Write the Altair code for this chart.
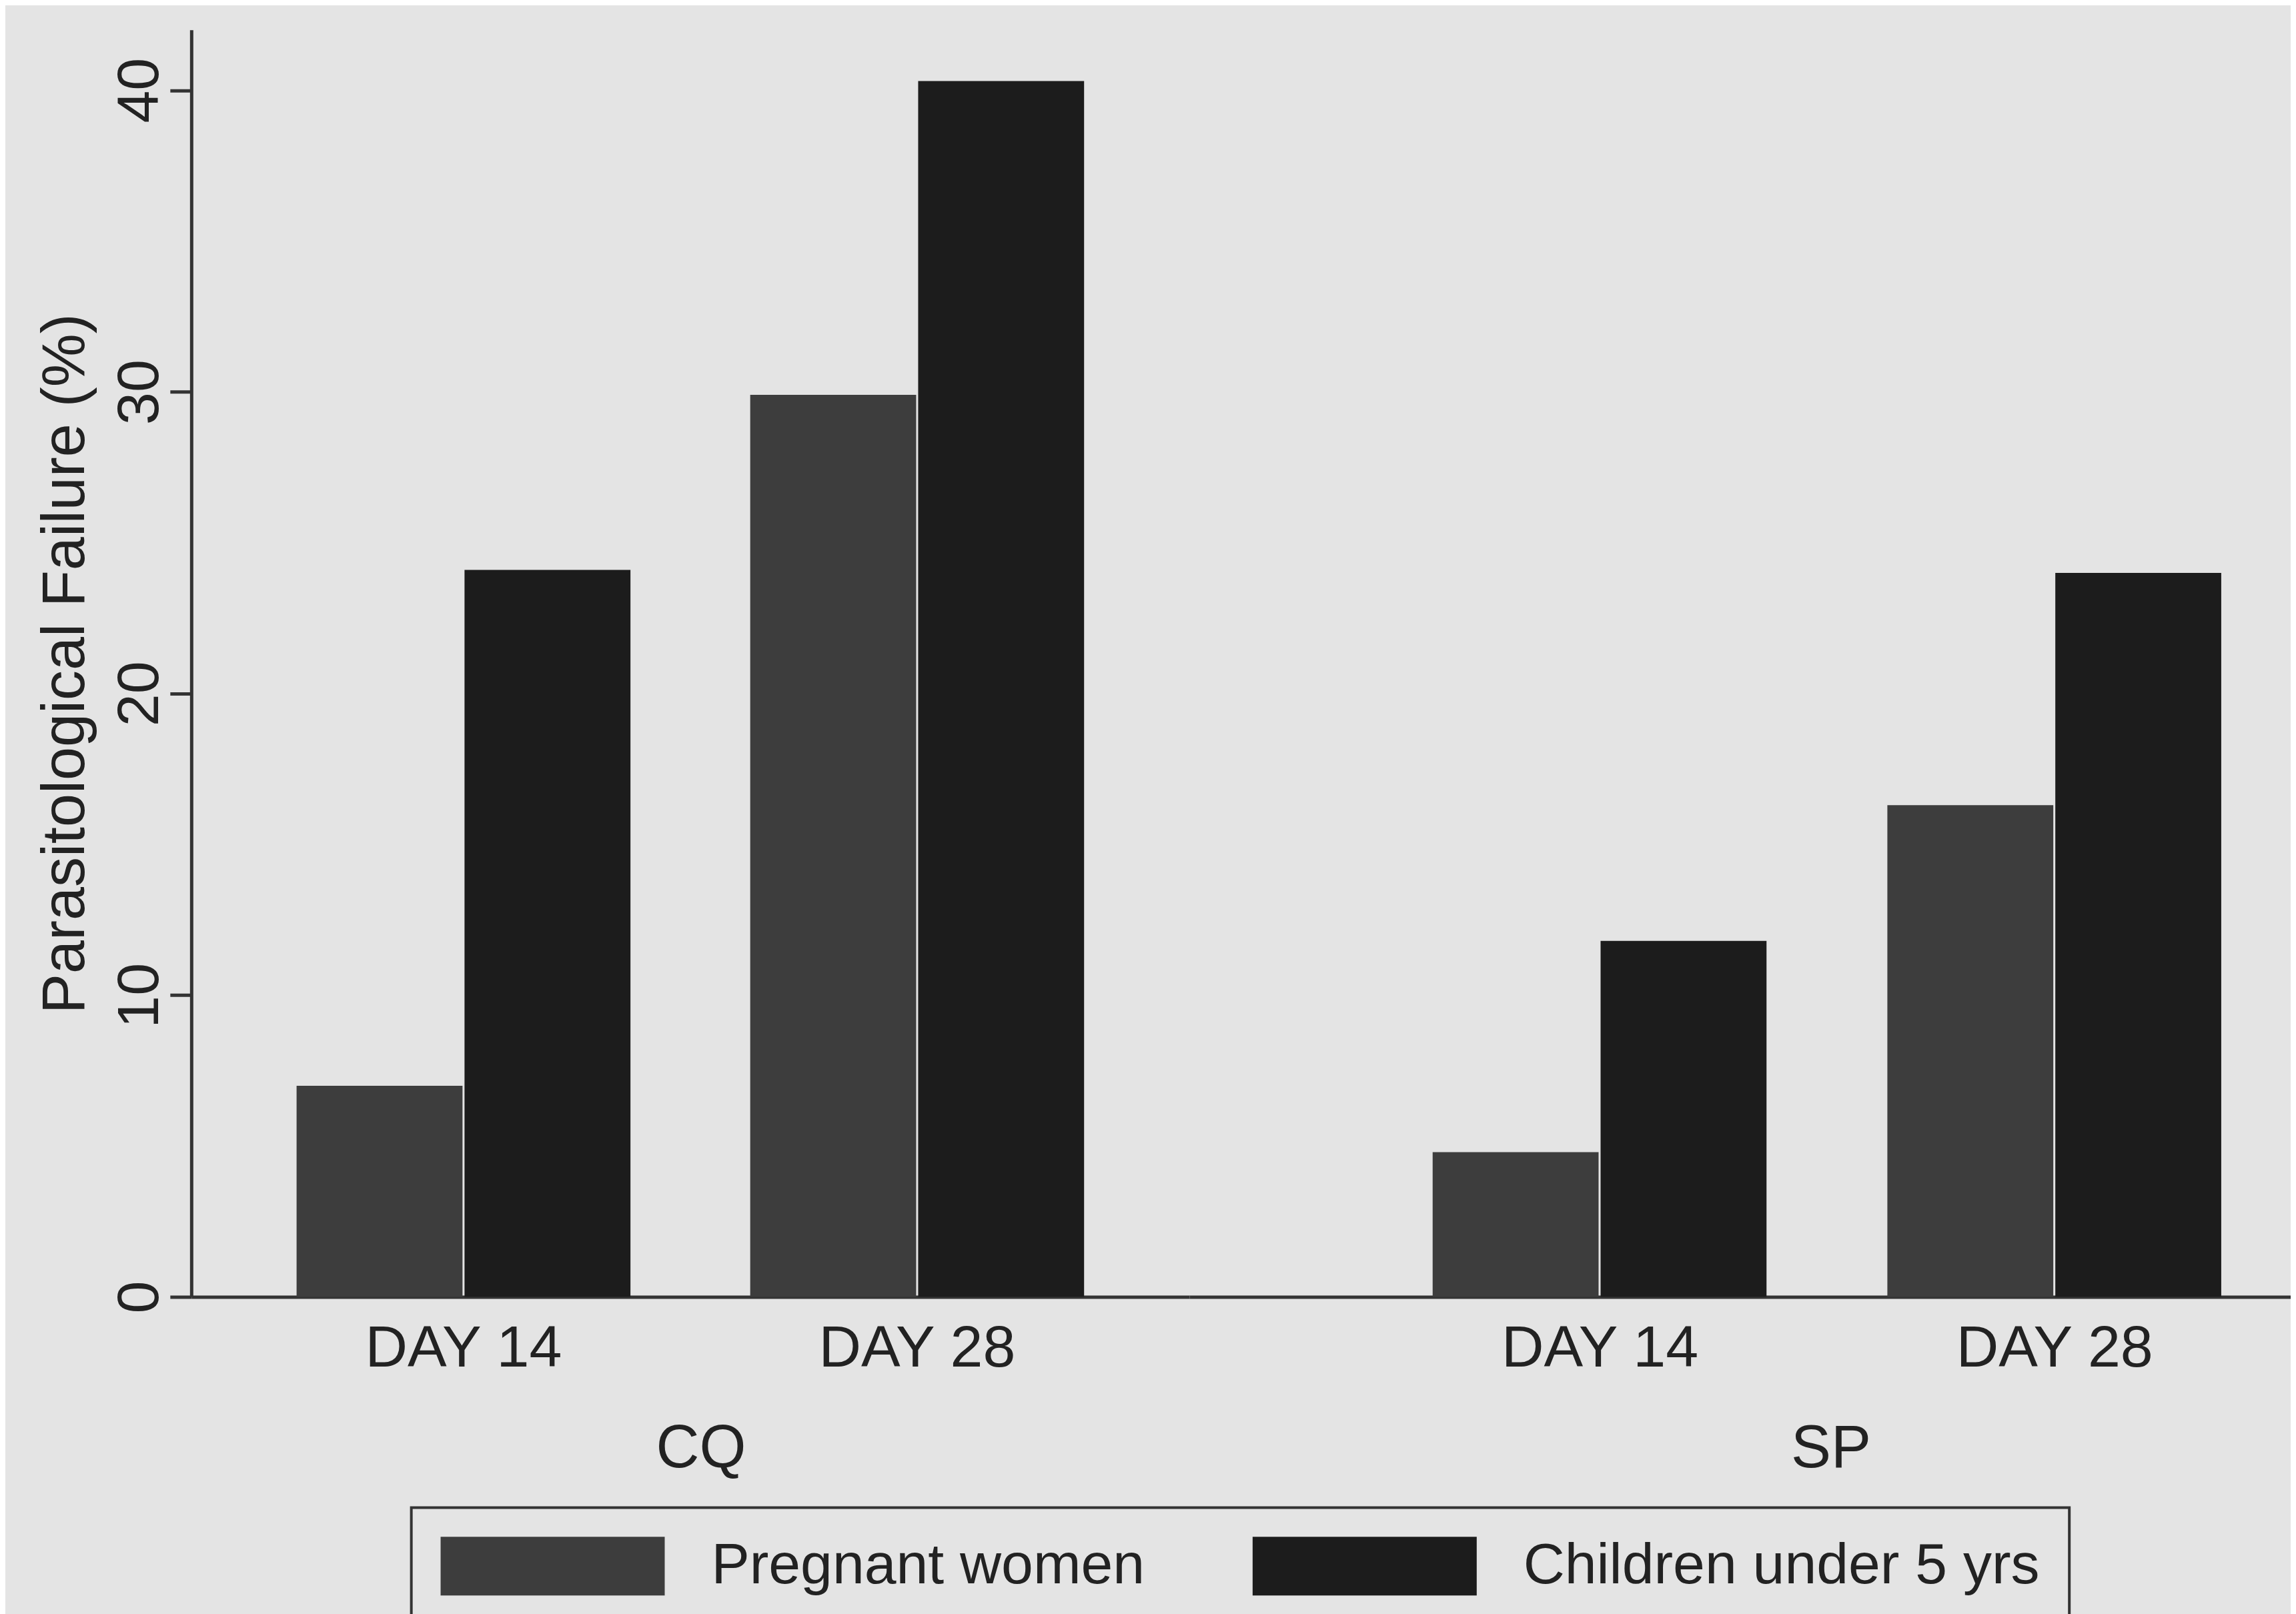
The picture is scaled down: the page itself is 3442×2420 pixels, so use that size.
import altair as alt
import pandas as pd

drugs = ["CQ", "CQ", "CQ", "CQ", "SP", "SP", "SP", "SP"]
days = ["DAY 14", "DAY 14", "DAY 28", "DAY 28", "DAY 14", "DAY 14", "DAY 28", "DAY 28"]
groups = ["Pregnant women", "Children under 5 yrs"] * 4
values = [7.0, 24.1, 29.9, 40.3, 4.8, 11.8, 16.3, 24.0]

group_order = ["Pregnant women", "Children under 5 yrs"]
day_order = ["DAY 14", "DAY 28"]
bar_colors = ["#3d3d3d", "#1c1c1c"]
y_ticks = [0, 10, 20, 30, 40]

df = pd.DataFrame({"drug": drugs, "day": days, "group": groups, "value": values})

FONT = "Liberation Sans"
TXT = "#222222"
AX = "#333333"

legend = alt.Legend(
    title=None,
    orient="none",
    legendX=330,
    legendY=2217,
    direction="horizontal",
    columns=2,
    symbolType="M-3.82,-1H3.82V1H-3.82Z",
    symbolSize=7744,
    symbolOffset=124,
    symbolStrokeWidth=0,
    symbolOpacity=1,
    labelFontSize=86,
    labelFont=FONT,
    labelColor=TXT,
    labelLimit=2000,
    labelOffset=194,
    columnPadding=160,
    padding=44,
    strokeColor=AX,
)


def panel(drug, width, pad_outer, align, title_x, show_y):
    sub = df[df["drug"] == drug]
    y_axis = (
        alt.Axis(
            title="Parasitological Failure (%)",
            values=y_ticks,
            grid=False,
            domainColor=AX,
            domainWidth=5,
            tickColor=AX,
            tickWidth=5,
            tickSize=32,
            labelAngle=270,
            labelAlign="center",
            labelBaseline="alphabetic",
            labelPadding=18,
            labelFontSize=88,
            labelFont=FONT,
            labelColor=TXT,
            titleFontSize=90,
            titleFont=FONT,
            titleFontWeight="normal",
            titleColor=TXT,
            titlePadding=22,
        )
        if show_y
        else None
    )
    return (
        alt.Chart(sub)
        .mark_bar(stroke=None)
        .encode(
            x=alt.X(
                "day:N",
                sort=day_order,
                scale=alt.Scale(paddingInner=0.264, paddingOuter=pad_outer, align=align),
                axis=alt.Axis(
                    title=drug,
                    labelAngle=0,
                    ticks=False,
                    domainColor=AX,
                    domainWidth=5,
                    labelPadding=34,
                    labelLimit=1000,
                    labelFontSize=88,
                    labelFont=FONT,
                    labelColor=TXT,
                    titleFontSize=90,
                    titleFont=FONT,
                    titleFontWeight="normal",
                    titleColor=TXT,
                    titlePadding=62,
                    titleX=title_x,
                ),
            ),
            xOffset=alt.XOffset(
                "group:N",
                sort=group_order,
                scale=alt.Scale(paddingInner=0.012, paddingOuter=0),
            ),
            y=alt.Y(
                "value:Q",
                scale=alt.Scale(domain=[0, 42], nice=False),
                axis=y_axis,
            ),
            color=alt.Color(
                "group:N",
                sort=group_order,
                scale=alt.Scale(domain=group_order, range=bar_colors),
                legend=legend,
            ),
        )
        .properties(width=width, height=1901)
    )


left = panel("CQ", 1497, 0.232, 0.5, 764, True)
right = panel("SP", 1652, 0.343, 0.78, 962, False)

chart = (
    alt.hconcat(left, right, spacing=0)
    .resolve_scale(y="shared")
    .properties(
        background="#e4e4e4",
        padding={"left": 46, "top": 36, "right": 0, "bottom": 0},
    )
    .configure_view(stroke=None)
    .configure_legend(strokeWidth=4)
)

chart.save("out.html", embed_options={"renderer": "svg", "actions": False})
